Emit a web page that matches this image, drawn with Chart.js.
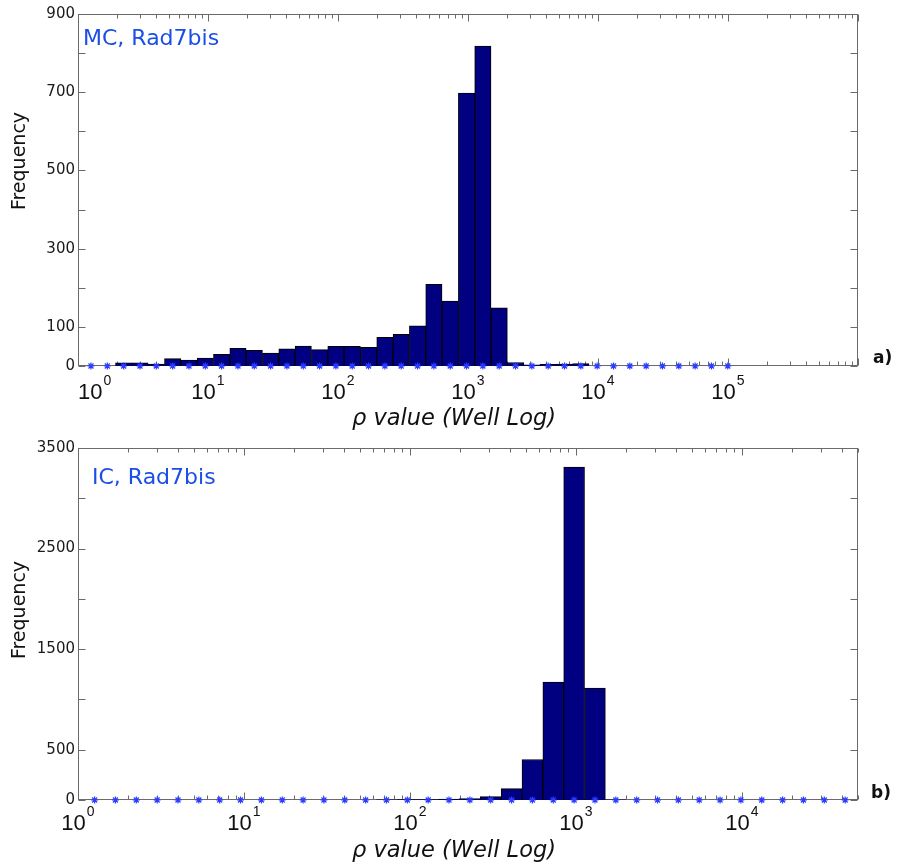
<!DOCTYPE html>
<html>
<head>
<meta charset="utf-8">
<script src="https://cdn.jsdelivr.net/npm/chart.js@4.4.0/dist/chart.umd.min.js"></script>
<style>
  body { margin: 0; background: #fff; width: 898px; height: 865px; overflow: hidden; }
  canvas { position: absolute; left: 0; }
</style>
</head>
<body>
<canvas id="chartA" width="898" height="432" style="top:0"></canvas>
<canvas id="chartB" width="898" height="433" style="top:432px"></canvas>
<script>
// bin centres (log spaced) of the rho histogram
const binCenters = [1.259, 1.681, 2.245, 2.998, 4.003, 5.346, 7.138, 9.532, 12.73, 17.00,
                    22.70, 30.31, 40.48, 54.05, 72.17, 96.38, 128.7, 171.8, 229.5, 306.4,
                    409.3, 546.5, 729.8, 974.5, 1301, 1738, 2321, 3099, 4138, 5526,
                    7379, 9854, 13158, 17571, 23464, 31333, 41843, 55873, 74611, 99632];

// a) MC, Rad7bis
const countsMC = [0, 0, 8, 8, 5, 19, 15, 20, 30, 45,
                  40, 33, 44, 51, 42, 50, 50, 48, 73, 81,
                  103, 209, 166, 698, 818, 149, 9, 3, 4, 5,
                  6, 0, 0, 0, 0, 0, 0, 0, 0, 0];
// b) IC, Rad7bis (37 bins)
const countsIC = [0, 0, 0, 0, 0, 0, 0, 0, 0, 0,
                  0, 0, 0, 0, 2, 3, 5, 8, 15, 33,
                  113, 403, 1172, 3310, 1112, 2, 0, 0, 0, 0,
                  0, 0, 0, 0, 0, 0, 0];

const decadesMC = [0, 1, 2, 3, 4, 5];
const decadesIC = [0, 1, 2, 3, 4];
const yLabelsMC = [0, 100, 300, 500, 700, 900];
const yLabelsIC = [0, 500, 1500, 2500, 3500];

// matlab-like box, inward ticks and the extra texts
function axesPlugin(cfg) {
    return {
        id: 'axesBox',
        beforeDatasetsDraw(chart) {
            const { ctx, chartArea: a, scales: { x, y } } = chart;
            const L = Math.round(a.left) + 0.5, R = Math.round(a.right) - 0.5;
            const T = Math.round(a.top) + 0.5, B = Math.round(a.bottom) - 0.5;
            ctx.save();
            ctx.strokeStyle = '#6a6a6a';
            ctx.lineWidth = 1;
            ctx.beginPath();
            for (let d = 0; Math.pow(10, d) <= x.max; d++) {
                for (let k = 1; k < 10; k++) {
                    const v = k * Math.pow(10, d);
                    if (v > x.max) break;
                    const px = Math.round(x.getPixelForValue(v)) + 0.5;
                    const len = k === 1 ? 7 : 4;
                    ctx.moveTo(px, B); ctx.lineTo(px, B - len);
                    ctx.moveTo(px, T); ctx.lineTo(px, T + len);
                }
            }
            y.ticks.forEach(t => {
                const py = Math.round(y.getPixelForValue(t.value)) + 0.5;
                ctx.moveTo(L, py); ctx.lineTo(L + 7, py);
                ctx.moveTo(R, py); ctx.lineTo(R - 7, py);
            });
            ctx.stroke();
            ctx.strokeRect(L, T, R - L, B - T);
            ctx.restore();
        },
        afterDraw(chart) {
            const { ctx, chartArea: a, scales: { x } } = chart;
            ctx.save();
            ctx.fillStyle = '#111';
            ctx.textBaseline = 'alphabetic';
            // 10^n tick labels
            cfg.decades.forEach((d, i) => {
                const px = x.getPixelForValue(Math.pow(10, d));
                ctx.font = '22px "Liberation Sans", Arial, sans-serif';
                const w1 = ctx.measureText('10').width;
                ctx.font = '14px "Liberation Sans", Arial, sans-serif';
                const w2 = ctx.measureText(String(d)).width;
                let left = px - (w1 + w2 + 1) / 2;
                if (i === 0 && cfg.firstLeft) left = px;
                const base = a.bottom + cfg.labelDrop;
                ctx.textAlign = 'left';
                ctx.font = '22px "Liberation Sans", Arial, sans-serif';
                ctx.fillText('10', left, base);
                ctx.font = '14px "Liberation Sans", Arial, sans-serif';
                ctx.fillText(String(d), left + w1 + 1, base - 14);
            });
            // x title
            ctx.textAlign = 'center';
            ctx.font = 'italic 22.5px "DejaVu Sans", sans-serif';
            ctx.fillText('ρ value (Well Log)', 454, cfg.xTitleY);
            // y title
            ctx.save();
            ctx.translate(25, cfg.yTitleY);
            ctx.rotate(-Math.PI / 2);
            ctx.font = '19px "DejaVu Sans", sans-serif';
            ctx.fillText('Frequency', 0, 0);
            ctx.restore();
            // panel name
            ctx.textAlign = 'left';
            ctx.fillStyle = '#1a4ee6';
            ctx.font = '22px "DejaVu Sans", sans-serif';
            ctx.fillText(cfg.name, cfg.nameX, cfg.nameY);
            // a) / b)
            ctx.fillStyle = '#111';
            ctx.font = 'bold 17px "DejaVu Sans", sans-serif';
            ctx.fillText(cfg.tag, cfg.tagX, cfg.tagY);
            ctx.restore();
        }
    };
}

function makeChart(id, counts, cfg) {
    const n = counts.length;
    const bars = counts.map((c, i) => ({ x: binCenters[i], y: c }));
    const stars = binCenters.slice(0, n).map(c => ({ x: c, y: 0 }));
    return new Chart(document.getElementById(id), {
        type: 'bar',
        data: {
            datasets: [
                {
                    type: 'line',
                    data: stars,
                    showLine: false,
                    pointStyle: 'star',
                    pointRadius: 3.5,
                    borderColor: '#2a3cff',
                    borderWidth: 1.2,
                    clip: false,
                    order: 0
                },
                {
                    data: bars,
                    backgroundColor: '#000080',
                    borderColor: '#000000',
                    borderWidth: 1,
                    barPercentage: 1,
                    categoryPercentage: 1,
                    order: 1
                }
            ]
        },
        options: {
            responsive: false,
            animation: false,
            layout: { padding: { left: 0, right: 40, top: cfg.top, bottom: 0 } },
            plugins: { legend: { display: false }, tooltip: { enabled: false } },
            scales: {
                x: {
                    type: 'logarithmic',
                    min: 1,
                    max: cfg.xMax,
                    offset: false,
                    grid: { display: false, drawTicks: false, offset: false },
                    border: { display: false },
                    ticks: { display: false },
                    afterBuildTicks: s => {
                        s.ticks = cfg.decades.map(d => ({ value: Math.pow(10, d) }));
                    },
                    afterFit: s => { s.height = cfg.xHeight; }
                },
                y: {
                    min: 0,
                    max: cfg.yMax,
                    grid: { display: false, drawTicks: false },
                    border: { display: false },
                    ticks: {
                        stepSize: cfg.yStep,
                        autoSkip: false,
                        padding: 3,
                        color: '#1a1a1a',
                        font: { family: '"DejaVu Sans", sans-serif', size: 15 },
                        callback: v => cfg.yLabels.includes(v) ? String(v) : ''
                    },
                    afterFit: s => { s.width = 78; }
                }
            }
        },
        plugins: [axesPlugin(cfg)]
    });
}

makeChart('chartA', countsMC, {
    top: 14, xHeight: 66, xMax: 1e6, yMax: 900, yStep: 100, yLabels: yLabelsMC,
    decades: decadesMC, firstLeft: true, labelDrop: 33,
    xTitleY: 425, yTitleY: 161, name: 'MC, Rad7bis', nameX: 83, nameY: 45,
    tag: 'a)', tagX: 873, tagY: 363
});

makeChart('chartB', countsIC, {
    top: 16, xHeight: 65, xMax: 5e4, yMax: 3500, yStep: 500, yLabels: yLabelsIC,
    decades: decadesIC, firstLeft: false, labelDrop: 30,
    xTitleY: 425, yTitleY: 178, name: 'IC, Rad7bis', nameX: 92, nameY: 52,
    tag: 'b)', tagX: 871, tagY: 366
});
</script>
</body>
</html>
